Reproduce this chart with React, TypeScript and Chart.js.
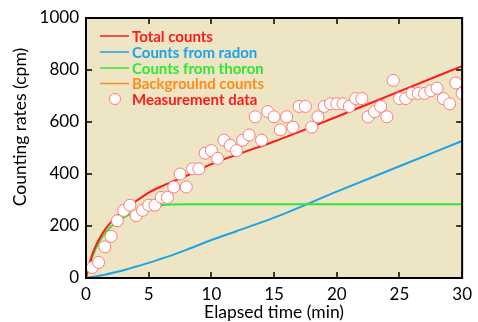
import React, { useEffect, useRef } from "react";
import { Chart, registerables } from "chart.js";
Chart.register(...registerables);

const MEAS_T = [0.5,1,1.5,2,2.5,3,3.5,4,4.5,5,5.5,6,6.5,7,7.5,8,8.5,9,9.5,10,10.5,11,11.5,12,12.5,13,13.5,14,14.5,15,15.5,16,16.5,17,17.5,18,18.5,19,19.5,20,20.5,21,21.5,22,22.5,23,23.5,24,24.5,25,25.5,26,26.5,27,27.5,28,28.5,29,29.5,30];
const MEAS_V = [40,60,120,160,220,260,280,240,260,280,280,310,310,350,400,350,420,420,480,490,460,530,510,490,530,550,620,530,640,620,570,620,580,660,660,580,620,660,670,670,670,660,690,690,620,640,660,620,760,690,690,710,710,710,720,730,690,670,750,710];

const CURVE_T = [0,0.25,0.5,0.75,1,1.5,2,2.5,3,3.5,4,5,6,7,8,10,12,15,20,25,30];
const TOTAL_V = [0,50,90,120,145,185,215,240,262,280,296,328,352,373,393,438,474,525,620,718,815];
const RADON_V = [0,2,4,6,8,13,18,24,30,37,44,58,74,90,108,146,180,232,332,430,527];
const THORON_V = [0,45,80,110,135,172,198,215,232,245,256,270,280,283,284,284,284,284,284,284,284];
const BG_V = [0,0,0,0,0,0,0,0,0,0,0,0,0,0,0,0,0,0,0,0,0];

const X_TICKS = [0,5,10,15,20,25,30];
const Y_TICKS = [0,200,400,600,800,1000];

const LEGEND = [
  { label: "Total counts", color: "#ff1a1a", text: "#ff1a1a", kind: "line" },
  { label: "Counts from radon", color: "#1aa3e8", text: "#1aa3e8", kind: "line" },
  { label: "Counts from thoron", color: "#33e633", text: "#33e633", kind: "line" },
  { label: "Backgroulnd counts", color: "#ff8c1a", text: "#ff8c1a", kind: "line" },
  { label: "Measurement data", color: "#ff7a7a", text: "#ff1a1a", kind: "point" },
];

const FONT = "Lato, 'Open Sans', sans-serif";
const BG = "#eee5c5";

export default function App() {
  const ref = useRef<HTMLCanvasElement>(null);
  useEffect(() => {
    document.body.style.margin = "0";
    const pts = (ts: number[], vs: number[]) => ts.map((t, i) => ({ x: t, y: vs[i] }));
    const deco = {
      id: "deco",
      beforeDatasetsDraw(chart: any) {
        const { ctx, chartArea: a } = chart;
        ctx.save();
        ctx.fillStyle = BG;
        ctx.fillRect(a.left, a.top, a.right - a.left, a.bottom - a.top);
        ctx.restore();
      },
      afterDatasetsDraw(chart: any) {
        const { ctx, chartArea: a, scales } = chart;
        const xs = scales.x, ys = scales.y;
        ctx.save();
        ctx.strokeStyle = "#000";
        ctx.lineWidth = 2;
        ctx.strokeRect(a.left, a.top, a.right - a.left, a.bottom - a.top);
        ctx.lineWidth = 1.5;
        ctx.beginPath();
        X_TICKS.forEach((t) => {
          const px = Math.round(xs.getPixelForValue(t));
          ctx.moveTo(px, a.bottom); ctx.lineTo(px, a.bottom - 6);
          ctx.moveTo(px, a.top); ctx.lineTo(px, a.top + 6);
        });
        Y_TICKS.forEach((v) => {
          const py = Math.round(ys.getPixelForValue(v));
          ctx.moveTo(a.left, py); ctx.lineTo(a.left + 6, py);
          ctx.moveTo(a.right, py); ctx.lineTo(a.right - 6, py);
        });
        ctx.stroke();

        // legend
        const rows = [36, 52, 68, 83.5, 99];
        ctx.font = `bold 15px ${FONT}`;
        ctx.textBaseline = "middle";
        ctx.textAlign = "left";
        LEGEND.forEach((it, i) => {
          const y = rows[i];
          if (it.kind === "line") {
            ctx.strokeStyle = it.color;
            ctx.lineWidth = 1.5;
            ctx.beginPath();
            ctx.moveTo(100, y); ctx.lineTo(129, y);
            ctx.stroke();
          } else {
            ctx.fillStyle = "#fff";
            ctx.strokeStyle = it.color;
            ctx.lineWidth = 1;
            ctx.beginPath();
            ctx.arc(115, y, 5.5, 0, Math.PI * 2);
            ctx.fill(); ctx.stroke();
          }
          ctx.fillStyle = it.text;
          ctx.fillText(it.label, 132, y + 1);
        });

        // axis titles
        ctx.fillStyle = "#000";
        ctx.font = `17.5px ${FONT}`;
        ctx.textAlign = "center";
        ctx.textBaseline = "middle";
        ctx.fillText("Elapsed time (min)", (a.left + a.right) / 2, 312);
        ctx.translate(20, 127);
        ctx.rotate(-Math.PI / 2);
        ctx.fillText("Counting rates (cpm)", 0, 0);
        ctx.restore();
      },
    };
    const chart = new Chart(ref.current!, {
      type: "scatter",
      data: {
        datasets: [
          {
            label: "Measurement data",
            data: pts(MEAS_T, MEAS_V),
            showLine: false,
            pointRadius: 6,
            pointBackgroundColor: "#ffffff",
            pointBorderColor: "#ff7a7a",
            pointBorderWidth: 1,
          },
          {
            label: "Total counts", data: pts(CURVE_T, TOTAL_V), showLine: true,
            borderColor: "#ff1a1a", borderWidth: 2, pointRadius: 0, cubicInterpolationMode: "monotone",
          },
          {
            label: "Counts from thoron", data: pts(CURVE_T, THORON_V), showLine: true,
            borderColor: "#33e633", borderWidth: 2, pointRadius: 0, cubicInterpolationMode: "monotone",
          },
          {
            label: "Counts from radon", data: pts(CURVE_T, RADON_V), showLine: true,
            borderColor: "#1aa3e8", borderWidth: 2, pointRadius: 0, cubicInterpolationMode: "monotone",
          },
          {
            label: "Backgroulnd counts", data: pts(CURVE_T, BG_V), showLine: true,
            borderColor: "#ff8c1a", borderWidth: 2, pointRadius: 0,
          },
        ] as any,
      },
      plugins: [deco],
      options: {
        responsive: false,
        animation: false,
        events: [],
        layout: { padding: { top: 18, right: 11, left: 0, bottom: 0 } },
        plugins: { legend: { display: false }, tooltip: { enabled: false } },
        scales: {
          x: {
            type: "linear", min: 0, max: 30,
            afterBuildTicks: (s: any) => { s.ticks = X_TICKS.map((v) => ({ value: v })); },
            afterFit: (s: any) => { s.height = 44; },
            grid: { display: false, drawTicks: false }, border: { display: false },
            ticks: { color: "#000", padding: 6, font: { family: FONT, size: 17 }, callback: (v: any) => String(v) },
          },
          y: {
            type: "linear", min: 0, max: 1000,
            afterBuildTicks: (s: any) => { s.ticks = Y_TICKS.map((v) => ({ value: v })); },
            afterFit: (s: any) => { s.width = 86; },
            grid: { display: false, drawTicks: false }, border: { display: false },
            ticks: { color: "#000", padding: 7, font: { family: FONT, size: 17 }, callback: (v: any) => String(v) },
          },
        },
      } as any,
    });
    return () => chart.destroy();
  }, []);
  return <canvas ref={ref} width={478} height={322} style={{ display: "block" }} />;
}
